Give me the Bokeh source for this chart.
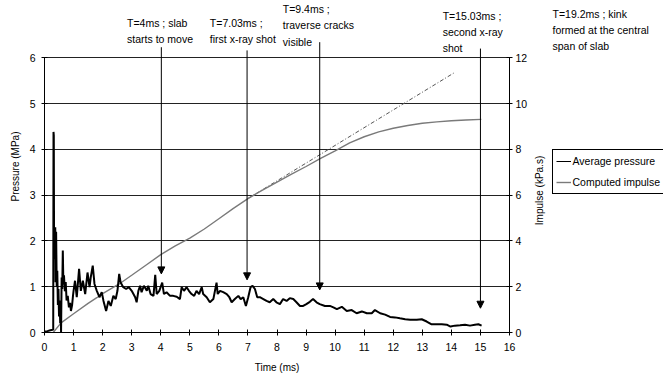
import math
import numpy as np
from bokeh.plotting import figure
from bokeh.layouts import row
from bokeh.models import (Range1d, LinearAxis, FixedTicker, Arrow, NormalHead,
                          Label, Legend, LegendItem)
from bokeh.embed import file_html
from bokeh.resources import INLINE

FONT = "Liberation Sans"

# ---- Average pressure (MPa) vs time (ms) ----
t_pressure = [0, 0.1, 0.2, 0.28, 0.30, 0.31, 0.32, 0.33, 0.35, 0.37, 0.38, 0.40, 0.42,
              0.44, 0.46, 0.48, 0.50, 0.52, 0.54, 0.56, 0.57, 0.59, 0.61, 0.63, 0.65,
              0.67, 0.70, 0.73, 0.76, 0.80, 0.84, 0.88, 0.91, 0.95, 0.98,
              1.00, 1.05, 1.11, 1.19, 1.25, 1.32, 1.40, 1.48, 1.55, 1.59, 1.66, 1.72,
              1.80, 1.89, 1.97, 2.03, 2.12, 2.20, 2.28, 2.37, 2.45, 2.51, 2.57, 2.62,
              2.71, 2.81, 2.90, 3.00, 3.12, 3.17, 3.23, 3.29, 3.34, 3.42, 3.52, 3.57,
              3.65, 3.75, 3.81, 3.86, 3.95, 4.05, 4.11, 4.20, 4.32, 4.43, 4.55, 4.66,
              4.72, 4.80, 4.89, 4.97, 5.06, 5.15, 5.23, 5.32, 5.41, 5.46, 5.58, 5.69,
              5.81, 5.92, 5.96, 6.04, 6.15, 6.27, 6.36, 6.44, 6.55, 6.67, 6.75, 6.84,
              6.93, 7.01, 7.09, 7.16, 7.24, 7.32, 7.41, 7.53, 7.64, 7.75, 7.87, 7.98,
              8.10, 8.21, 8.33, 8.44, 8.56, 8.67, 8.79, 8.90, 9.01, 9.13, 9.24, 9.36,
              9.47, 9.65, 9.82, 9.94, 10.06, 10.23, 10.40, 10.57, 10.74, 10.92, 11.09,
              11.26, 11.37, 11.55, 11.72, 11.89, 12.06, 12.23, 12.41, 12.58, 12.81,
              12.98, 13.15, 13.32, 13.49, 13.67, 13.84, 13.97, 14.12, 14.30, 14.47,
              14.64, 14.81, 14.93, 15.04]
p_pressure = [0.02, 0.03, 0.05, 0.06, 0.06, 4.38, 4.30, 1.60, 2.00, 2.30, 1.10, 2.20, 1.00,
              1.35, 0.60, 0.95, 0.35, 0.70, 0.20, 0.60, 0.00, 1.20, 0.95, 1.79, 1.05,
              1.25, 0.90, 1.10, 0.70, 0.80, 0.55, 0.65, 0.47, 0.60, 0.80,
              0.91, 1.13, 0.77, 1.39, 0.91, 1.13, 0.84, 1.31, 0.99, 1.20, 1.46, 1.06,
              0.91, 0.77, 0.88, 0.69, 0.47, 0.69, 0.58, 0.80, 0.73, 0.91, 1.28, 1.09,
              0.99, 0.95, 0.99, 0.91, 0.77, 0.66, 0.91, 1.02, 0.88, 1.02, 0.91, 1.02,
              0.84, 0.80, 1.26, 0.84, 0.91, 1.09, 0.84, 0.88, 0.80, 0.80, 0.78, 0.73,
              0.99, 0.91, 0.99, 0.91, 0.84, 0.80, 0.91, 0.84, 0.99, 0.84, 0.77, 0.66,
              0.73, 1.09, 0.84, 0.91, 0.88, 0.84, 0.77, 0.66, 0.73, 0.80, 0.73, 0.77,
              0.58, 0.77, 0.99, 1.02, 0.95, 0.77, 0.77, 0.73, 0.69, 0.66, 0.73, 0.66,
              0.62, 0.73, 0.69, 0.75, 0.73, 0.66, 0.58, 0.58, 0.62, 0.67, 0.73, 0.66,
              0.62, 0.58, 0.58, 0.55, 0.51, 0.56, 0.47, 0.49, 0.42, 0.46, 0.42,
              0.42, 0.49, 0.42, 0.39, 0.34, 0.33, 0.31, 0.29, 0.28, 0.28,
              0.29, 0.24, 0.18, 0.18, 0.18, 0.17, 0.13, 0.15, 0.16, 0.17,
              0.15, 0.17, 0.18, 0.15]

# ---- Computed impulse (kPa.s) ----
t_impulse = [0.30, 0.57, 1.0, 1.5, 1.8, 2.0, 2.57, 3.0, 3.5, 4.0, 4.5, 5.0, 5.5, 6.0,
             6.5, 7.0, 7.5, 8.0, 8.5, 9.0, 9.5, 10.0, 10.5, 11.0, 11.5, 12.0, 12.5,
             13.0, 13.5, 14.0, 14.5, 15.03]
impulse = [0.0, 0.42, 0.82, 1.27, 1.52, 1.70, 2.12, 2.50, 2.95, 3.40, 3.78, 4.12, 4.52,
           4.97, 5.42, 5.85, 6.22, 6.57, 6.92, 7.25, 7.60, 7.93, 8.28, 8.55, 8.76, 8.92,
           9.04, 9.14, 9.20, 9.25, 9.28, 9.31]

# ---- extrapolated linear impulse ----
t_extrap = [7.0, 14.08]
impulse_extrap = [5.85, 11.33]

# ---- event annotations ----
event_x = [4.02, 6.97, 9.47, 15.0]
event_top = [6.23, 6.16, 6.34, 6.20]
event_tip = [1.28, 1.15, 0.93, 0.53]
note_texts = ["T=4ms ; slab\nstarts to move",
              "T=7.03ms ;\nfirst x-ray shot",
              "T=9.4ms ;\ntraverse cracks\nvisible",
              "T=15.03ms ;\nsecond x-ray\nshot"]
note_x = [2.84, 5.69, 8.20, 13.70]
note_y = [6.90, 6.90, 7.19, 7.05]
side_note = "T=19.2ms ; kink\nformed at the central\nspan of slab"
series_names = ["Average pressure", "Computed impulse"]

x_ticks = list(range(0, 17))
p_ticks = [0, 1, 2, 3, 4, 5, 6]
i_ticks = [0, 2, 4, 6, 8, 10, 12]

PRESS_COLOR = "black"
IMP_COLOR = "#7a7a7a"

# ---------------- main chart ----------------
p = figure(width=530, height=378, output_backend="svg", toolbar_location=None,
           x_range=Range1d(0, 16), y_range=Range1d(0, 7.25),
           min_border_left=44, min_border_right=20, min_border_top=0,
           min_border_bottom=46)
p.outline_line_color = None
p.extra_y_ranges = {"imp": Range1d(0, 14.5)}

p.xaxis.ticker = FixedTicker(ticks=x_ticks)
p.yaxis.ticker = FixedTicker(ticks=p_ticks)
p.yaxis.bounds = (0, 6)
p.xaxis.axis_label = "Time (ms)"
p.yaxis.axis_label = "Pressure (MPa)"
rax = LinearAxis(y_range_name="imp", ticker=FixedTicker(ticks=i_ticks), bounds=(0, 12))
p.add_layout(rax, "right")

for ax in [p.xaxis[0], p.yaxis[0], rax]:
    ax.major_tick_in = 3
    ax.major_tick_out = 3
    ax.minor_tick_line_color = None
    ax.axis_line_color = "black"
    ax.major_tick_line_color = "black"
    ax.major_label_text_font = FONT
    ax.major_label_text_font_size = "10.5px"
    ax.major_label_text_color = "black"
    ax.axis_label_text_font = FONT
    ax.axis_label_text_font_size = "10px"
    ax.axis_label_text_font_style = "normal"
    ax.axis_label_text_color = "black"
p.xaxis.major_label_standoff = 7
p.xaxis.axis_label_standoff = 8
p.yaxis.major_label_standoff = 6
p.yaxis.axis_label_standoff = 6
rax.major_label_standoff = 3

p.xgrid.visible = False
p.ygrid.ticker = FixedTicker(ticks=[1, 2, 3, 4, 5, 6])
p.ygrid.grid_line_color = "#222222"
p.ygrid.grid_line_width = 1

p.line(t_extrap, impulse_extrap, y_range_name="imp", line_color="#555555",
       line_width=1, line_dash="4 2 1 2")
p.line(t_impulse, impulse, y_range_name="imp", line_color=IMP_COLOR, line_width=1.4)
p.line(t_pressure, p_pressure, line_color=PRESS_COLOR, line_width=2)

for x, top, tip in zip(event_x, event_top, event_tip):
    p.add_layout(Arrow(end=NormalHead(size=7, fill_color="black", line_color="black",
                                      line_width=1),
                       x_start=x, y_start=top, x_end=x, y_end=tip,
                       line_color="black", line_width=1))

for txt, x, y in zip(note_texts, note_x, note_y):
    p.add_layout(Label(x=x, y=y, text=txt, text_font=FONT, text_font_size="10.5px",
                       text_baseline="top", text_align="left", text_color="black",
                       text_line_height=1.35))

# ---------------- right-hand strip: impulse axis title, note, legend ----------------
# Same top/bottom borders as the main chart (the row aligns them); units = pixels
p2 = figure(width=133, height=378, output_backend="svg", toolbar_location=None,
            x_range=Range1d(0, 133), y_range=Range1d(0, 332),
            x_axis_type=None, y_axis_type=None,
            min_border_left=0, min_border_right=0, min_border_top=0, min_border_bottom=46)
p2.outline_line_color = None
p2.grid.visible = False

p2.add_layout(Label(x=8.5, y=142, text="Impulse (kPa.s)", angle=math.pi / 2,
                    text_font=FONT, text_font_size="10px", text_align="center",
                    text_baseline="middle", text_color="black"))
p2.add_layout(Label(x=22, y=325, text=side_note, text_font=FONT, text_font_size="10.5px",
                    text_baseline="top", text_align="left", text_color="black",
                    text_line_height=1.35))

# legend proxies (no visible data) so that the key can sit beside the right axis
nan1 = np.array([np.nan])
lp = p2.line(nan1, nan1, line_color=PRESS_COLOR, line_width=1)
li = p2.line(nan1, nan1, line_color=IMP_COLOR, line_width=1.4)
legend = Legend(items=[LegendItem(label=series_names[0], renderers=[lp]),
                       LegendItem(label=series_names[1], renderers=[li])],
                location=(21.5, 138), border_line_color="black", border_line_width=1,
                border_line_alpha=1,
                padding=3, spacing=5, glyph_width=15, glyph_height=16, label_height=16,
                label_standoff=2, label_text_font=FONT, label_text_font_size="10.5px",
                label_text_color="black",
                margin=0, background_fill_alpha=1)
p2.add_layout(legend)

layout = row(p, p2)
open("out.html", "w").write(file_html(layout, INLINE))
